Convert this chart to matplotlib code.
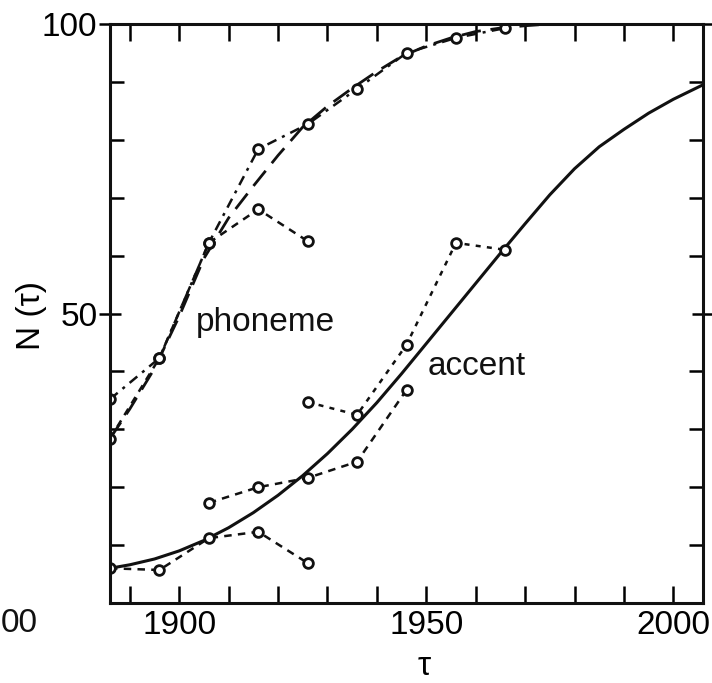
import matplotlib
matplotlib.use("Agg")
import matplotlib.pyplot as plt
from matplotlib.ticker import FixedLocator, MultipleLocator

plt.rcParams['font.family'] = ['Liberation Sans', 'DejaVu Sans']

# ---------------- data ----------------
# phoneme: smooth fitted curve (long dashes)
phon_fit_years = [1886, 1890, 1895, 1900, 1905, 1910, 1915, 1920, 1925, 1930,
                  1935, 1940, 1945, 1950, 1955, 1960, 1965, 1970, 1975, 1986]
phon_fit_vals = [28.4, 33.5, 40.5, 49.5, 59.5, 66.5, 72.0, 77.3, 82.2, 85.8,
                 88.9, 91.8, 94.4, 96.2, 97.6, 98.7, 99.3, 99.7, 100.0, 100.0]
# phoneme: observed series
phon_a_years = [1886, 1896, 1906, 1916, 1926, 1936, 1946, 1956, 1966]
phon_a_vals = [35.2, 42.3, 62.2, 78.4, 82.7, 88.8, 95.0, 97.6, 99.3]
phon_b_years = [1886, 1896, 1906, 1916, 1926]
phon_b_vals = [28.4, 42.3, 62.2, 68.0, 62.5]

# accent: smooth fitted curve (solid)
acc_fit_years = [1886, 1890, 1895, 1900, 1905, 1910, 1915, 1920, 1925, 1930,
                 1935, 1940, 1945, 1950, 1955, 1960, 1965, 1970, 1975, 1980,
                 1985, 1990, 1995, 2000, 2006]
acc_fit_vals = [6.0, 6.6, 7.6, 9.0, 10.8, 13.0, 15.6, 18.6, 22.0, 25.8,
                30.0, 34.6, 39.6, 44.8, 50.0, 55.2, 60.4, 65.5, 70.5, 75.0,
                78.8, 81.8, 84.6, 87.0, 89.5]
# accent: observed series
acc_d_years = [1886, 1896, 1906, 1916, 1926]
acc_d_vals = [6.0, 5.7, 11.2, 12.3, 6.9]
acc_e_years = [1926, 1936, 1946, 1956, 1966]
acc_e_vals = [34.7, 32.5, 44.6, 62.2, 61.0]
acc_f_years = [1906, 1916, 1926, 1936, 1946]
acc_f_vals = [17.3, 20.0, 21.6, 24.4, 36.8]

x_major = [1900, 1950, 2000]
x_labels = ['1900', '1950', '2000']
y_major = [50, 100]
y_labels = ['50', '100']

# ---------------- figure ----------------
fig = plt.figure(figsize=(7.12, 6.83), dpi=100)
ax = fig.add_axes([110 / 712, 1 - 603 / 683, (703 - 110) / 712, (603 - 24) / 683])

ink = '#111111'
mk = dict(marker='o', markersize=7, markerfacecolor='white',
          markeredgecolor=ink, markeredgewidth=2.0, color=ink)

ax.plot(phon_fit_years, phon_fit_vals, color=ink, lw=2.0,
        linestyle=(0, (7, 3.5)), zorder=2)
ax.plot(acc_fit_years, acc_fit_vals, color=ink, lw=2.2, linestyle='-', zorder=2)

ax.plot(phon_a_years, phon_a_vals, lw=1.8, linestyle=(0, (4, 2.5, 1.2, 2.5)), **mk)
ax.plot(phon_b_years, phon_b_vals, lw=1.8, linestyle=(0, (3, 2.5)), **mk)
ax.plot(acc_d_years, acc_d_vals, lw=1.8, linestyle=(0, (3, 2.5)), **mk)
ax.plot(acc_e_years, acc_e_vals, lw=1.8, linestyle=(0, (2, 2.5)), **mk)
ax.plot(acc_f_years, acc_f_vals, lw=1.8, linestyle=(0, (3, 2.5)), **mk)

ax.set_xlim(1886, 2006)
ax.set_ylim(0, 100)

ax.xaxis.set_major_locator(FixedLocator(x_major))
ax.set_xticklabels(x_labels)
ax.xaxis.set_minor_locator(MultipleLocator(10))
ax.yaxis.set_major_locator(FixedLocator(y_major))
ax.set_yticklabels(y_labels)
ax.yaxis.set_minor_locator(MultipleLocator(10))

ax.tick_params(axis='x', which='both', direction='in', top=True, bottom=True,
               labelsize=24, pad=5, width=1.8, length=12)
ax.tick_params(axis='y', which='major', direction='inout', left=True, right=True,
               labelsize=24, pad=1, width=1.8, length=16)
ax.tick_params(axis='y', which='minor', direction='in', left=True, right=True,
               width=1.8, length=10)

for s in ax.spines.values():
    s.set_linewidth(2.2)
    s.set_color(ink)

ax.set_ylabel('N (τ)', fontsize=24)
ax.yaxis.set_label_coords(-0.106, 0.496)
ax.set_xlabel('τ', fontsize=24)
ax.xaxis.label.set_verticalalignment('baseline')
ax.xaxis.set_label_coords((424 - 110) / 593, (603 - 675) / 579)

ax.text(1903.4, 47.0, 'phoneme', fontsize=24, ha='left', va='baseline', color=ink)
ax.text(1950.3, 39.4, 'accent', fontsize=24, ha='left', va='baseline', color=ink)

fig.text(1 / 712, 1 - 623 / 683, '00', fontsize=24, ha='left', va='center', color=ink)

fig.savefig('out.png', dpi=100)
